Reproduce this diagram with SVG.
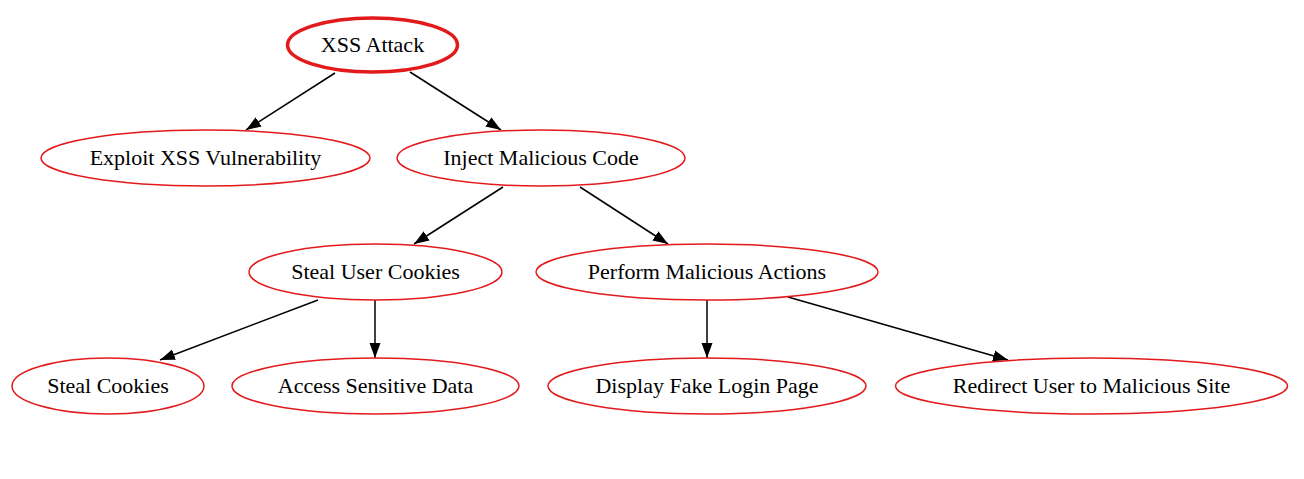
<svg xmlns="http://www.w3.org/2000/svg" width="1304" height="479" viewBox="0 0 1304 479">
<style>
.n ellipse{fill:#fff;stroke:#e31a1c;stroke-width:1.5}
.root ellipse{stroke-width:3.5}
text{font-family:"Liberation Serif","Times New Roman",serif;font-size:22px;fill:#000;text-anchor:middle}
.e line{stroke:#000;stroke-width:1.5;marker-end:url(#ah)}
</style>
<defs>
<marker id="ah" markerWidth="16" markerHeight="12" viewBox="0 0 16 12" refX="15" refY="6" orient="auto" markerUnits="userSpaceOnUse">
<path d="M0,0.5 L15,6 L0,11.5 z" fill="#000"/>
</marker>
</defs>
<rect width="1304" height="479" fill="#fff"/>
<g id="edges" class="e">
<line x1="335" y1="73" x2="246" y2="130"/>
<line x1="410" y1="72" x2="501" y2="130"/>
<line x1="503" y1="187" x2="414" y2="244"/>
<line x1="580" y1="187" x2="668" y2="244"/>
<line x1="318" y1="300" x2="160" y2="360"/>
<line x1="375" y1="300" x2="375" y2="358"/>
<line x1="707" y1="300" x2="707" y2="358"/>
<line x1="788" y1="297" x2="1008" y2="360"/>
</g>
<g id="xss" class="n root"><ellipse cx="372.5" cy="45" rx="85" ry="27"/><text x="372.5" y="52">XSS Attack</text></g>
<g id="exploit" class="n"><ellipse cx="205.5" cy="158" rx="164.5" ry="28"/><text x="205.5" y="165">Exploit XSS Vulnerability</text></g>
<g id="inject" class="n"><ellipse cx="541" cy="158" rx="144" ry="28"/><text x="541" y="165">Inject Malicious Code</text></g>
<g id="stealuser" class="n"><ellipse cx="375.5" cy="272" rx="126.5" ry="28"/><text x="375.5" y="279">Steal User Cookies</text></g>
<g id="perform" class="n"><ellipse cx="707" cy="272" rx="171" ry="28"/><text x="707" y="279">Perform Malicious Actions</text></g>
<g id="stealcookies" class="n"><ellipse cx="108" cy="386" rx="96" ry="28"/><text x="108" y="393">Steal Cookies</text></g>
<g id="access" class="n"><ellipse cx="375.5" cy="386" rx="143.5" ry="28"/><text x="375.5" y="393">Access Sensitive Data</text></g>
<g id="display" class="n"><ellipse cx="707" cy="386" rx="159" ry="28"/><text x="707" y="393">Display Fake Login Page</text></g>
<g id="redirect" class="n"><ellipse cx="1091.5" cy="386" rx="196" ry="28"/><text x="1091.5" y="393">Redirect User to Malicious Site</text></g>
</svg>
